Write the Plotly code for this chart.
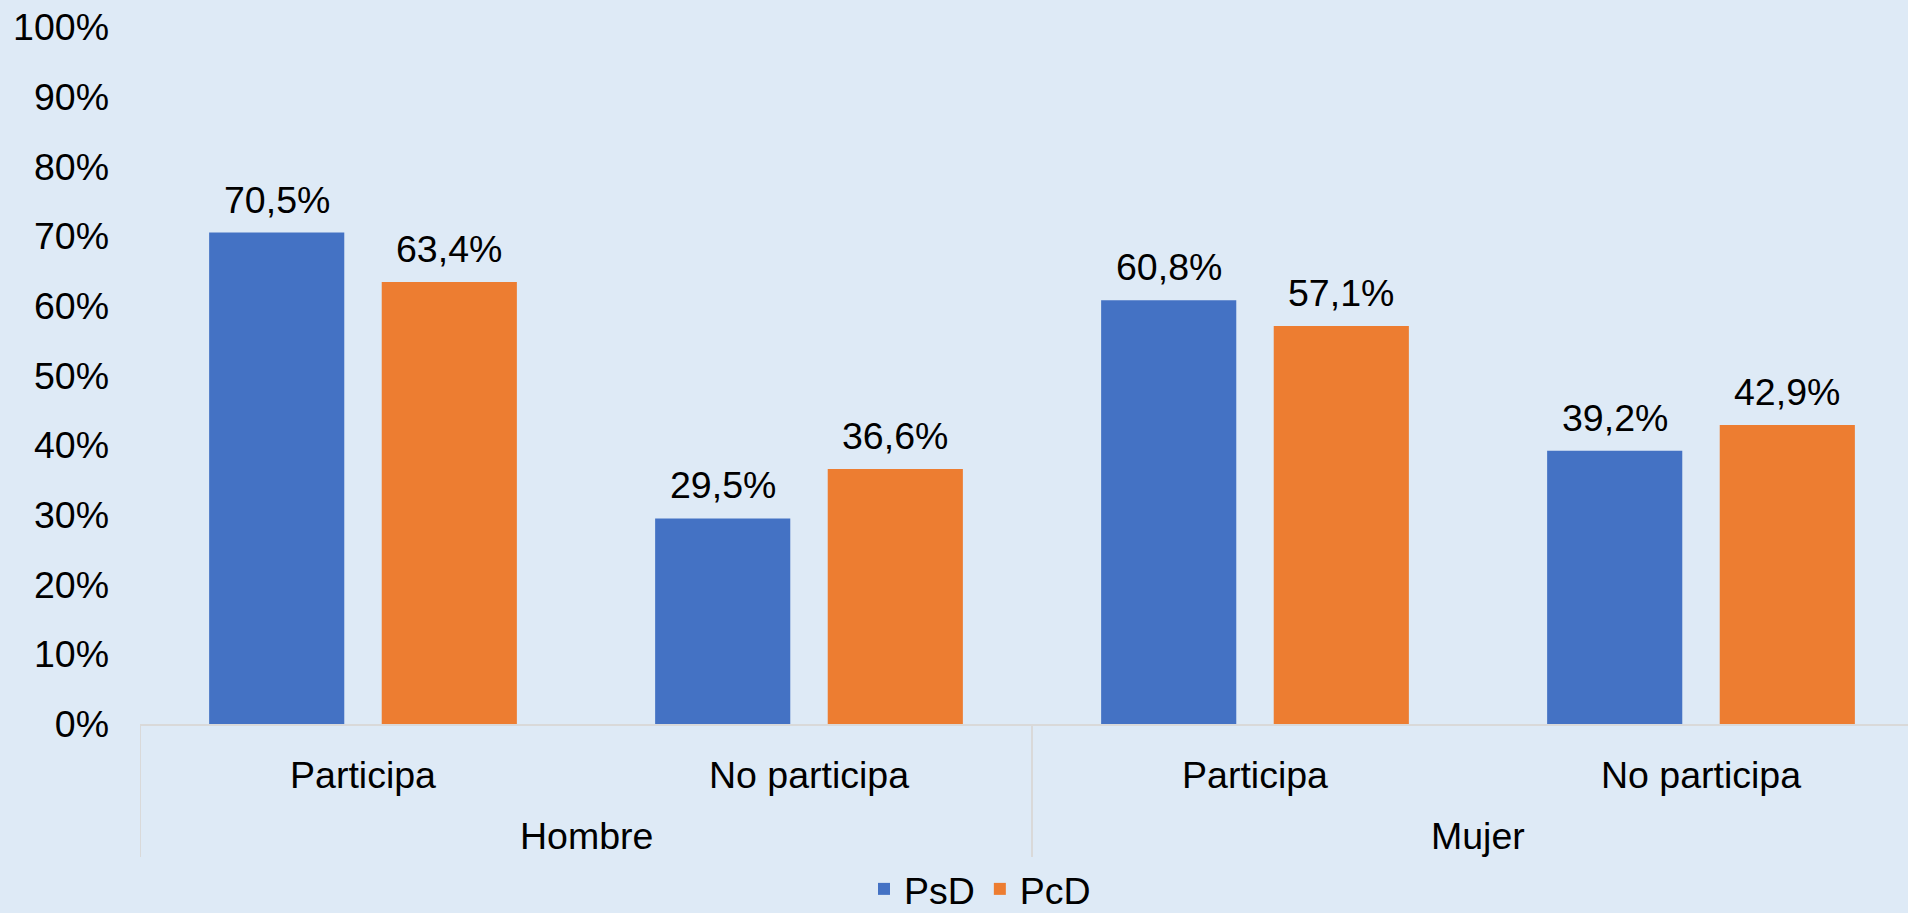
import plotly.graph_objects as go

groups = ["Hombre", "Mujer"]
subcats = ["Participa", "No participa", "Participa", "No participa"]
psd = [70.5, 29.5, 60.8, 39.2]
pcd = [63.4, 36.6, 57.1, 42.9]
series_names = ["PsD", "PcD"]
colors = ["#4472C4", "#ED7D31"]
yticks = [0, 10, 20, 30, 40, 50, 60, 70, 80, 90, 100]

W, H = 1908, 913
ML, MR, MT, MB = 140, 0, 27, 189
plot_w = W - ML - MR
plot_h = H - MT - MB
cat_px = 446.0
xmax = -0.5 + plot_w / cat_px
axis_y = H - MB

FONT = "Liberation Sans, Arial, sans-serif"
FS = 37.5
BG = "#DEEAF6"
AXC = "#D9D9D9"

bar_w = 0.303
offsets = [-0.345, 0.042]

xs = list(range(len(subcats)))
fig = go.Figure()
for name, vals, col, off in zip(series_names, [psd, pcd], colors, offsets):
    fig.add_trace(go.Bar(
        x=xs, y=vals, name=name, marker_color=col,
        width=bar_w, offset=off, marker_line_width=0,
    ))

def fmt(v):
    return f"{v:.1f}".replace(".", ",") + "%"

annotations = []
for vals, off in zip([psd, pcd], offsets):
    for i, v in enumerate(vals):
        annotations.append(dict(
            x=i + off + bar_w / 2, y=v, xref="x", yref="y",
            text=fmt(v), showarrow=False, yanchor="bottom", yshift=10,
            font=dict(family=FONT, size=FS, color="black"),
        ))

for gi, g in enumerate(groups):
    annotations.append(dict(
        x=gi * 2 + 0.5, y=-(836 - axis_y) / plot_h, xref="x", yref="paper",
        text=g, showarrow=False, yanchor="middle",
        font=dict(family=FONT, size=FS, color="black"),
    ))

shapes = [
    dict(type="line", xref="x", yref="paper", x0=b, x1=b, y0=0,
         y1=-(857 - axis_y) / plot_h, line=dict(color=AXC, width=2))
    for b in [-0.5, 1.5, 3.5]
]

fig.update_layout(
    width=W, height=H,
    margin=dict(l=ML, r=MR, t=MT, b=MB, autoexpand=False),
    paper_bgcolor=BG, plot_bgcolor=BG,
    font=dict(family=FONT, size=FS, color="black"),
    barmode="group",
    showlegend=True,
    legend=dict(orientation="h", x=(980 - ML) / plot_w, xanchor="center",
                y=-(889 - axis_y) / plot_h, yanchor="middle",
                font=dict(family=FONT, size=FS, color="black"),
                bgcolor="rgba(0,0,0,0)", itemwidth=30, tracegroupgap=0),
    annotations=annotations,
    shapes=shapes,
    xaxis=dict(range=[-0.5, xmax], tickmode="array", tickvals=xs, ticktext=subcats,
               showgrid=False, zeroline=False, showline=True, linecolor=AXC, linewidth=2,
               ticks="", ticklabelstandoff=17, fixedrange=True),
    yaxis=dict(range=[0, 100], tickmode="array", tickvals=yticks,
               ticktext=[f"{t}%" for t in yticks],
               showgrid=False, zeroline=False, showline=False, ticks="",
               ticklabelstandoff=30, fixedrange=True),
)

fig.write_html(
    "out.html",
    config={"displayModeBar": False},
    post_script="document.body.style.margin='0';document.body.style.padding='0';"
                "document.documentElement.style.background='" + BG + "';",
)
